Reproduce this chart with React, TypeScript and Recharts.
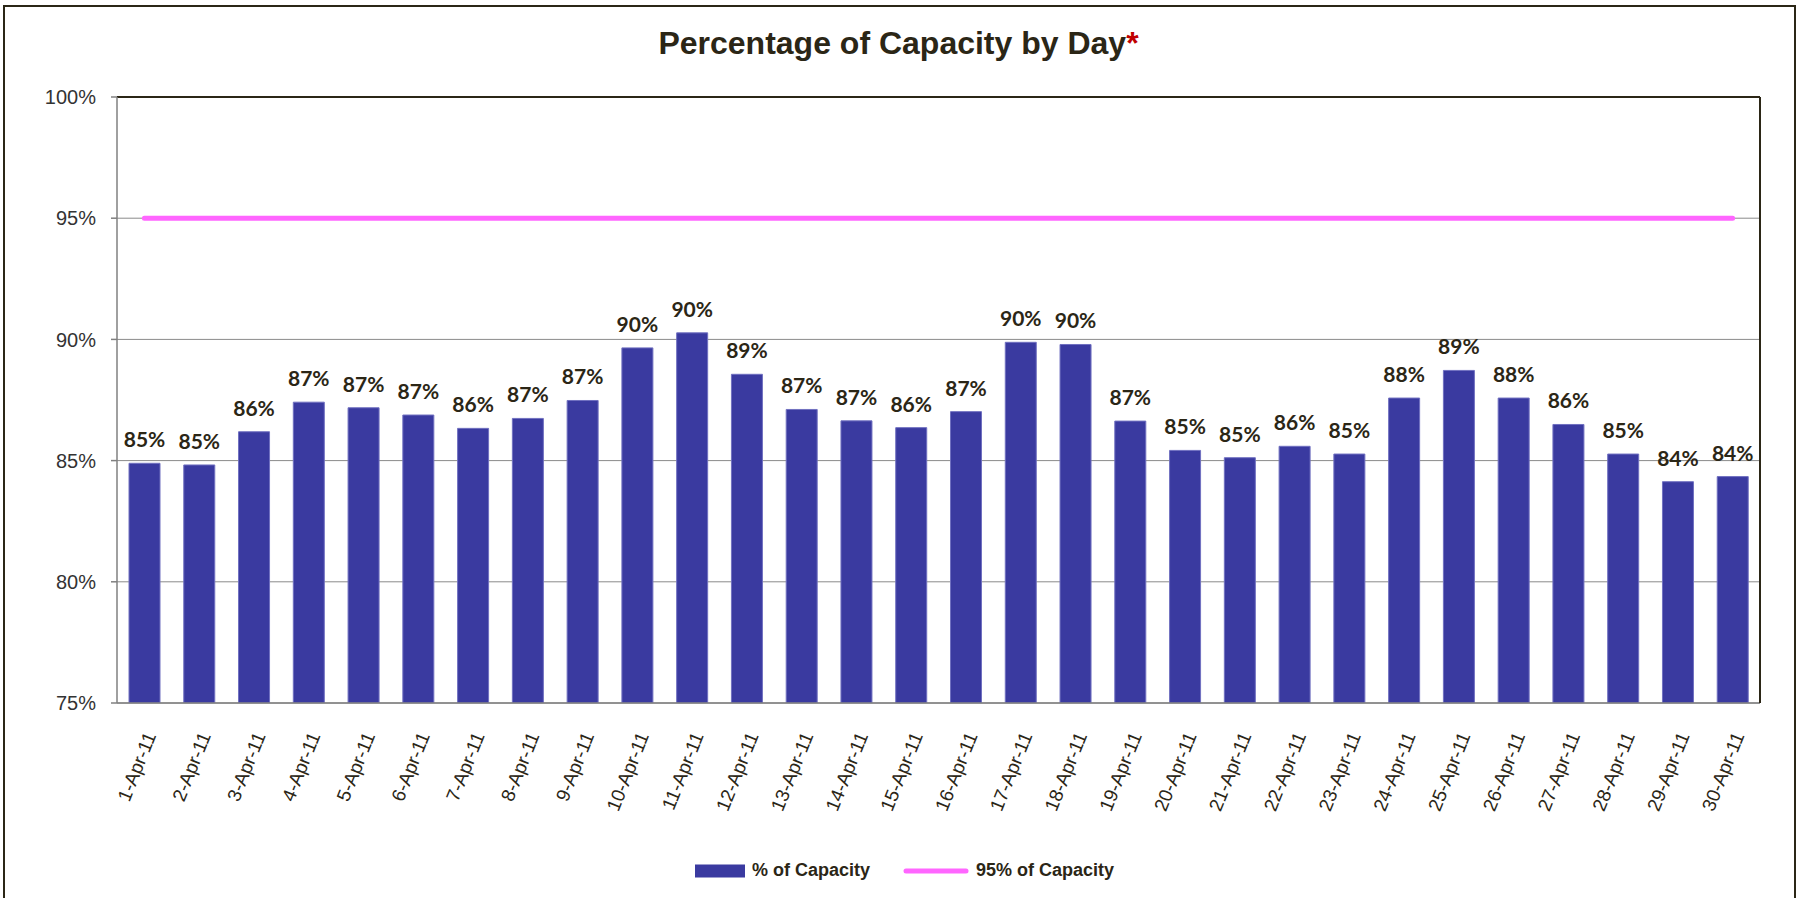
import React from "react";
import {
  ComposedChart,
  Bar,
  Line,
  XAxis,
  YAxis,
  CartesianGrid,
  LabelList,
  Legend,
} from "recharts";

const days = [
  "1-Apr-11", "2-Apr-11", "3-Apr-11", "4-Apr-11", "5-Apr-11", "6-Apr-11",
  "7-Apr-11", "8-Apr-11", "9-Apr-11", "10-Apr-11", "11-Apr-11", "12-Apr-11",
  "13-Apr-11", "14-Apr-11", "15-Apr-11", "16-Apr-11", "17-Apr-11", "18-Apr-11",
  "19-Apr-11", "20-Apr-11", "21-Apr-11", "22-Apr-11", "23-Apr-11", "24-Apr-11",
  "25-Apr-11", "26-Apr-11", "27-Apr-11", "28-Apr-11", "29-Apr-11", "30-Apr-11",
];

const capacityPct = [
  84.89, 84.82, 86.19, 87.41, 87.18, 86.88, 86.33, 86.74, 87.48, 89.65,
  90.27, 88.56, 87.11, 86.64, 86.36, 87.02, 89.88, 89.79, 86.63, 85.42,
  85.12, 85.59, 85.27, 87.58, 88.72, 87.58, 86.49, 85.27, 84.13, 84.34,
];

const targetPct = [
  95, 95, 95, 95, 95, 95, 95, 95, 95, 95,
  95, 95, 95, 95, 95, 95, 95, 95, 95, 95,
  95, 95, 95, 95, 95, 95, 95, 95, 95, 95,
];

const yTicks = [75, 80, 85, 90, 95, 100];
// tick marks sit between the days, so a hidden number axis carries them
const edgeTicks = [
  0, 1, 2, 3, 4, 5, 6, 7, 8, 9, 10, 11, 12, 13, 14, 15,
  16, 17, 18, 19, 20, 21, 22, 23, 24, 25, 26, 27, 28, 29, 30,
];

const data = days.map((day, i) => ({
  day,
  pct: capacityPct[i],
  target: targetPct[i],
}));

const BAR = "#3a3aa0";
const PINK = "#ff66ff";
const INK = "#2b2616";
const AXIS = "#808080";
const ARIAL = "Arial, 'Liberation Sans', sans-serif";

const DayTick = (props: any) => {
  const { x, y, payload } = props;
  return (
    <g transform={`translate(${x + 6},${y + 30}) rotate(-68)`}>
      <text
        x={0}
        y={0}
        textAnchor="end"
        dominantBaseline="central"
        fill={INK}
        fontSize={19}
        fontFamily={ARIAL}
      >
        {payload.value}
      </text>
    </g>
  );
};

const LegendContent = (props: any) => {
  const items = props.payload || [];
  return (
    <div
      style={{
        display: "flex",
        justifyContent: "center",
        alignItems: "center",
        paddingLeft: 12,
        fontFamily: ARIAL,
        fontWeight: 700,
        fontSize: 18,
        color: INK,
      }}
    >
      {items.map((it: any, i: number) => (
        <div
          key={it.value}
          style={{ display: "flex", alignItems: "center", marginLeft: i ? 33 : 0 }}
        >
          {it.type === "line" ? (
            <svg width={66} height={14} style={{ marginRight: 7 }}>
              <line x1={3} y1={7} x2={63} y2={7} stroke={PINK} strokeWidth={5} strokeLinecap="round" />
            </svg>
          ) : (
            <svg width={50} height={14} style={{ marginRight: 7 }}>
              <rect x={0} y={0.5} width={50} height={13} fill={BAR} />
            </svg>
          )}
          <span>{it.value}</span>
        </div>
      ))}
    </div>
  );
};

export default function App() {
  return (
    <div
      style={{
        position: "absolute",
        left: 0,
        top: 0,
        width: 1797,
        height: 898,
        overflow: "hidden",
        background: "#fff",
      }}
    >
      <div
        style={{
          position: "absolute",
          left: 3,
          top: 5,
          width: 1793,
          height: 1000,
          boxSizing: "border-box",
          border: `2px solid ${INK}`,
        }}
      />
      <div
        style={{
          position: "absolute",
          left: 0,
          top: 24,
          width: 1797,
          textAlign: "center",
          fontFamily: ARIAL,
          fontWeight: 700,
          fontSize: 32,
          color: INK,
          lineHeight: "38px",
        }}
      >
        Percentage of Capacity by Day<span style={{ color: "#c00000" }}>*</span>
      </div>
      <div style={{ position: "absolute", left: 0, top: 0 }}>
        <ComposedChart
          width={1797}
          height={898}
          data={data}
          margin={{ top: 96, right: 36, bottom: 193, left: 0 }}
        >
          <CartesianGrid vertical={false} stroke="#8a8a8a" />
          <XAxis
            dataKey="day"
            interval={0}
            height={1}
            tickLine={false}
            tickSize={0}
            tickMargin={0}
            axisLine={{ stroke: AXIS, strokeWidth: 1.5 }}
            tick={<DayTick />}
          />
          <XAxis
            xAxisId="edges"
            type="number"
            domain={[0, 30]}
            ticks={edgeTicks}
            allowDataOverflow
            height={1}
            tick={false}
            axisLine={false}
            tickLine={{ stroke: AXIS, strokeWidth: 1.5 }}
            tickSize={6}
          />
          <XAxis
            xAxisId="top"
            orientation="top"
            dataKey="day"
            height={1}
            tick={false}
            tickLine={false}
            axisLine={{ stroke: INK, strokeWidth: 2 }}
          />
          <YAxis
            domain={[75, 100]}
            ticks={yTicks}
            allowDataOverflow
            width={117}
            tickSize={6}
            tickMargin={15}
            tickFormatter={(v: number) => `${v}%`}
            tick={{ fill: "#333", fontSize: 20, fontFamily: ARIAL }}
            axisLine={{ stroke: AXIS, strokeWidth: 1.5 }}
            tickLine={{ stroke: AXIS, strokeWidth: 1.5 }}
          />
          <YAxis
            yAxisId="right"
            orientation="right"
            domain={[75, 100]}
            ticks={yTicks}
            width={1}
            tick={false}
            tickLine={false}
            axisLine={{ stroke: INK, strokeWidth: 2 }}
          />
          <Bar
            dataKey="pct"
            name="% of Capacity"
            fill={BAR}
            stroke="#7070c0"
            strokeWidth={1}
            barSize={31}
            isAnimationActive={false}
          >
            <LabelList
              dataKey="pct"
              position="top"
              offset={16}
              formatter={(v: any) => `${Math.round(Number(v))}%`}
              fill={INK}
              fontSize={21}
              fontWeight={700}
              fontFamily="Lato, 'Open Sans', sans-serif"
            />
          </Bar>
          <Line
            dataKey="target"
            name="95% of Capacity"
            type="linear"
            stroke={PINK}
            strokeWidth={5}
            strokeLinecap="round"
            dot={false}
            activeDot={false}
            legendType="line"
            isAnimationActive={false}
          />
          <Legend
            verticalAlign="middle"
            align="center"
            layout="horizontal"
            content={<LegendContent />}
            wrapperStyle={{ top: 860, left: 0, width: 1797 }}
          />
        </ComposedChart>
      </div>
    </div>
  );
}
